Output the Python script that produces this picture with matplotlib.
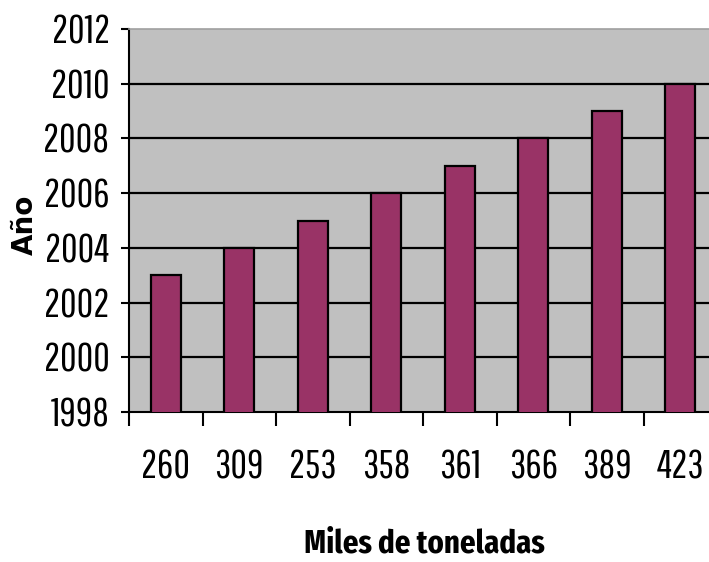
import numpy as np
import matplotlib
matplotlib.use('Agg')
import matplotlib.pyplot as plt
from matplotlib.ticker import FixedLocator

# datos
toneladas = ['260', '309', '253', '358', '361', '366', '389', '423']
anios = [2003, 2004, 2005, 2006, 2007, 2008, 2009, 2010]
yticks = [1998, 2000, 2002, 2004, 2006, 2008, 2010, 2012]

plt.rcParams['font.family'] = ['Pathway Gothic One', 'DejaVu Sans']

fig = plt.figure(figsize=(7.09, 5.62), dpi=100)
# el area del grafico sigue un poco mas alla del borde derecho (imagen recortada)
ax = fig.add_axes([129/709, 150/562, 588/709, 383/562])
ax.set_facecolor('#C0C0C0')

x = np.arange(len(toneladas))
ax.bar(x, anios, width=0.41, color='#993366', edgecolor='black', linewidth=1.6, zorder=3)

ax.set_ylim(1998, 2012)
ax.set_xlim(-0.5, len(toneladas) - 0.5)
ax.set_yticks(yticks)
ax.set_yticklabels([str(v) for v in yticks], fontsize=29)
for v in yticks[1:-1]:
    ax.axhline(v, color='black', linewidth=1.6, zorder=1)

ax.set_xticks(x)
ax.set_xticklabels(toneladas, fontsize=29)
ax.xaxis.set_minor_locator(FixedLocator(np.arange(-0.5, len(toneladas), 1.0)))
ax.tick_params(axis='x', which='major', length=0, pad=27)
ax.tick_params(axis='x', which='minor', length=10, width=1.5, color='black')
ax.tick_params(axis='y', length=6, width=1.5, pad=8)

ax.spines['right'].set_visible(False)
ax.spines['top'].set_color('#A0A0A0')
ax.spines['top'].set_linewidth(1.2)
ax.spines['left'].set_linewidth(1.5)
ax.spines['bottom'].set_linewidth(1.5)

fig.text(424/709, (562-544)/562, 'Miles de toneladas', fontsize=24, fontweight='bold',
         family=['Fira Sans Extra Condensed', 'DejaVu Sans'], ha='center', va='center')
fig.text(25/709, (562-225)/562, 'Año', fontsize=20, fontweight='bold',
         family=['DejaVu Sans'], rotation=90, ha='center', va='center')

fig.savefig('out.png', dpi=100)
